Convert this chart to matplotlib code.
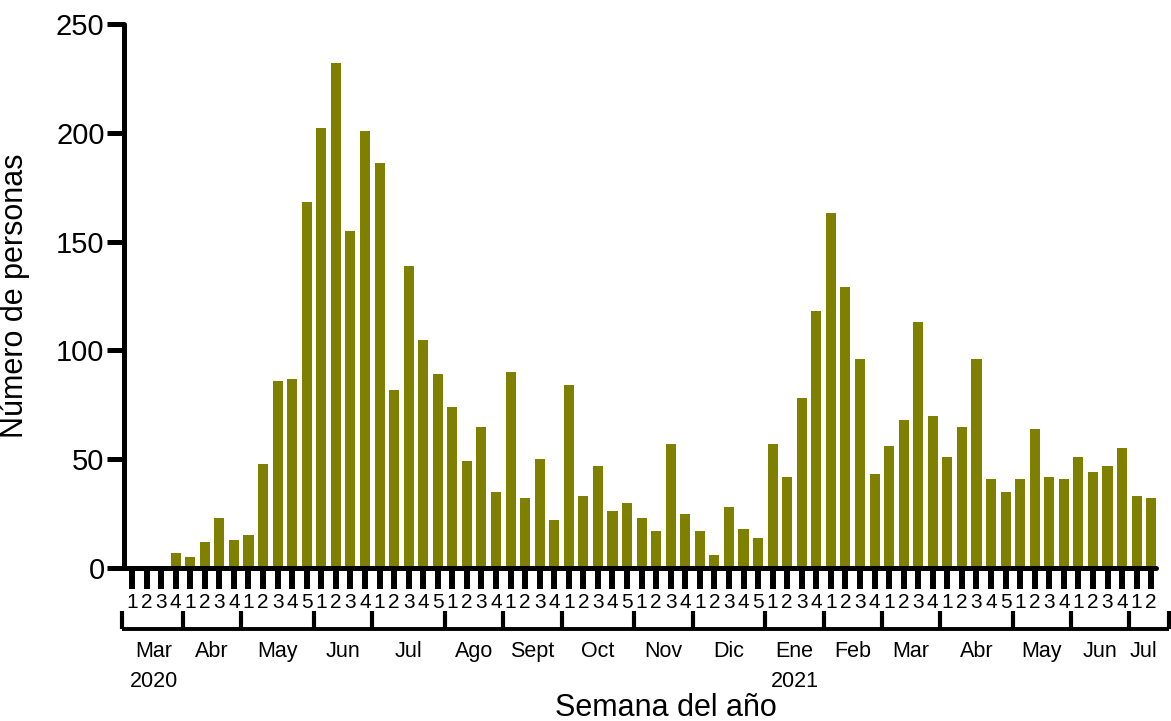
import numpy as np
import matplotlib
matplotlib.use("Agg")
import matplotlib.pyplot as plt

plt.rcParams['font.family'] = ['Liberation Sans', 'DejaVu Sans']

# ---- data ----
month_names = ['Mar', 'Abr', 'May', 'Jun', 'Jul', 'Ago', 'Sept', 'Oct', 'Nov', 'Dic',
               'Ene', 'Feb', 'Mar', 'Abr', 'May', 'Jun', 'Jul']
weeks_per_month = [4, 4, 5, 4, 5, 4, 4, 5, 4, 5, 4, 4, 4, 5, 4, 4, 2]
year_labels = {0: '2020', 10: '2021'}
values = [0, 0, 0, 7,
          5, 12, 23, 13,
          15, 48, 86, 87, 168,
          202, 232, 155, 201,
          186, 82, 139, 105, 89,
          74, 49, 65, 35,
          90, 32, 50, 22,
          84, 33, 47, 26, 30,
          23, 17, 57, 25,
          17, 6, 28, 18, 14,
          57, 42, 78, 118,
          163, 129, 96, 43,
          56, 68, 113, 70,
          51, 65, 96, 41, 35,
          41, 64, 42, 41,
          51, 44, 47, 55,
          33, 32]
week_labels = [str(k) for n in weeks_per_month for k in range(1, n + 1)]
y_ticks = [0, 50, 100, 150, 200, 250]

bar_color = '#808000'

W, H = 1171, 721
fig = plt.figure(figsize=(W / 100, H / 100), dpi=100)
ax = fig.add_axes([124 / W, 1 - 568 / H, (1156 - 124) / W, (568 - 24) / H])

x = np.arange(len(values))
ax.bar(x, values, width=0.69, color=bar_color, zorder=2)

ax.set_xlim(-0.55, len(values) - 0.67)
ax.set_ylim(0, 250)

for s in ['top', 'right']:
    ax.spines[s].set_visible(False)
ax.spines['left'].set_linewidth(3.6)
ax.spines['bottom'].set_linewidth(3.6)
ax.spines['left'].set_capstyle('round')
ax.spines['bottom'].set_capstyle('round')

ax.set_yticks(y_ticks)
ax.set_yticklabels([str(v) for v in y_ticks], fontsize=21)
ax.tick_params(axis='y', direction='out', length=12, width=3.6, pad=2)

ax.set_xticks(x)
ax.set_xticklabels(week_labels, fontsize=15)
ax.tick_params(axis='x', direction='out', length=15, width=4.3, pad=3)

# month axis
tr = ax.get_xaxis_transform()
cum = np.cumsum([0] + weeks_per_month) - 0.5
bounds = cum.astype(float).copy()
bounds[0] = -0.7
bounds[-1] = len(values) + 0.2
y_line = -0.112
y_div_top = -0.079
ax.plot([bounds[0], bounds[-1]], [y_line, y_line], color='black', lw=2.8,
        transform=tr, clip_on=False, solid_capstyle='butt')
for b in bounds:
    ax.plot([b, b], [y_line, y_div_top], color='black', lw=3.0,
            transform=tr, clip_on=False, solid_capstyle='butt')
for i, name in enumerate(month_names):
    c = (cum[i] + cum[i + 1]) / 2
    ax.text(c, -0.154, name, transform=tr, ha='center', va='center', fontsize=15.5)
    if i in year_labels:
        ax.text(c, -0.208, year_labels[i], transform=tr, ha='center', va='center', fontsize=15.5)

ax.text(0.525, -0.257, 'Semana del año', transform=ax.transAxes, ha='center',
        va='center', fontsize=22)
ax.set_ylabel('Número de personas', fontsize=22)
ax.yaxis.set_label_coords(-0.091, 0.5)

fig.savefig('out.png', dpi=100)
